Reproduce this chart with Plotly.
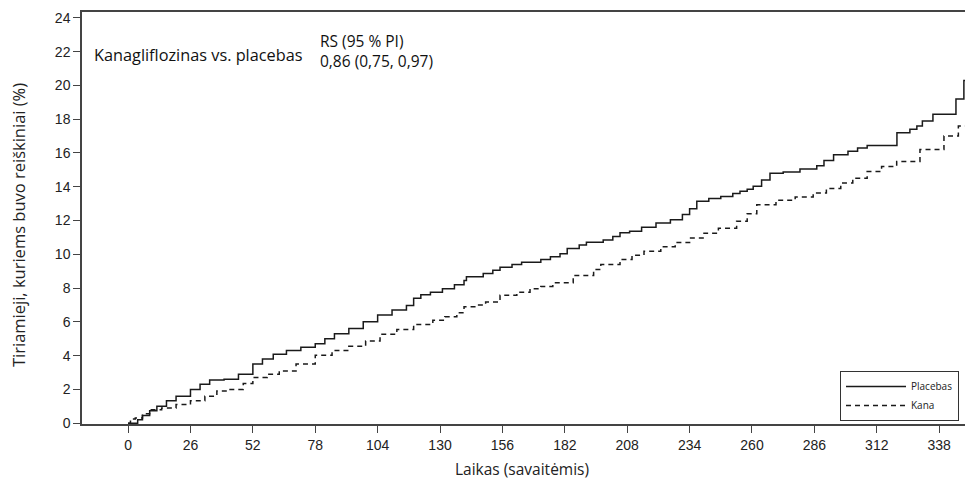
import plotly.graph_objects as go

# Placebo (solid) cumulative incidence
placebo_weeks = [0, 2, 4, 6, 9, 12, 16, 20, 26, 30, 34, 40, 46, 52, 56, 60.5, 66, 72, 78, 82, 86,
                 92, 98, 104, 110, 116, 119, 122, 126, 131, 136, 140, 141, 148, 152, 155, 160, 164,
                 172, 176, 180, 183, 188, 191, 198, 202, 205, 209, 214, 220, 226, 231, 234, 237,
                 242, 247, 252, 255, 258, 260.5, 264, 267.5, 273, 280, 287, 290, 294, 300, 304,
                 308, 320.4, 325.8, 328.7, 331, 335.4, 345, 348.3, 356]
placebo_pct = [0, 0.0, 0.2, 0.45, 0.73, 1.0, 1.32, 1.6, 2.0, 2.3, 2.55, 2.6, 2.9, 3.5, 3.8, 4.08,
               4.3, 4.5, 4.7, 5.0, 5.3, 5.6, 6.0, 6.4, 6.7, 6.97, 7.4, 7.6, 7.76, 7.96, 8.2, 8.45,
               8.67, 8.87, 9.05, 9.24, 9.4, 9.53, 9.69, 9.85, 10.03, 10.34, 10.55, 10.72, 10.85,
               11.05, 11.27, 11.37, 11.6, 11.85, 12.05, 12.35, 12.7, 13.14, 13.3, 13.43, 13.6,
               13.73, 13.85, 14.03, 14.4, 14.8, 14.87, 15.05, 15.25, 15.55, 15.9, 16.1, 16.3,
               16.45, 17.2, 17.4, 17.6, 17.9, 18.3, 19.2, 20.3, 20.3]

# Canagliflozin (dashed)
kana_weeks = [0, 1, 3, 6, 9, 14, 20, 26, 32, 37, 42, 48, 52, 58, 63, 70, 78, 85, 92, 99, 105,
              112, 119, 127, 132, 137, 140, 145, 149, 155, 162, 167.5, 172, 177, 185.5, 194, 197,
              205, 210, 215, 222, 228, 234, 240, 246, 253.6, 258, 262, 270, 278, 285.5, 291, 297,
              302, 308, 314, 320.3, 330, 340, 346, 350, 356]
kana_pct = [0, 0.25, 0.3, 0.55, 0.8, 0.9, 1.1, 1.32, 1.6, 1.91, 2.0, 2.35, 2.7, 2.9, 3.09, 3.5,
            4.02, 4.3, 4.55, 4.87, 5.26, 5.55, 5.85, 6.1, 6.3, 6.54, 6.9, 7.0, 7.17, 7.57, 7.75,
            7.96, 8.1, 8.31, 8.75, 9.1, 9.4, 9.69, 9.95, 10.18, 10.45, 10.7, 10.97, 11.25, 11.55,
            11.96, 12.4, 12.94, 13.2, 13.4, 13.63, 13.9, 14.22, 14.5, 14.9, 15.2, 15.5, 16.2,
            17.0, 17.6, 18.0, 18.0]

x_ticks = [0, 26, 52, 78, 104, 130, 156, 182, 208, 234, 260, 286, 312, 338]
y_ticks = list(range(0, 25, 2))

TXT = "'Open Sans', Lato, sans-serif"
NUM = "Arial, 'Liberation Sans', sans-serif"
AX = "#444444"

# page offset of the figure (default body margin) is 8px
OFF = 8
PL, PT, PW, PH = 82, 12, 891, 412  # plot area in page pixels

def px(x):
    return (x - PL) / PW

def py(y):
    return (PT + PH - y) / PH

fig = go.Figure()
fig.add_trace(go.Scatter(x=placebo_weeks, y=placebo_pct, mode="lines", line_shape="hv",
                         name="Placebas", line=dict(color="#1a1a1a", width=1.5)))
fig.add_trace(go.Scatter(x=kana_weeks, y=kana_pct, mode="lines", line_shape="hv",
                         name="Kana", line=dict(color="#1a1a1a", width=1.5, dash="5px,4px")))

fig.update_layout(
    width=973 - OFF, height=481 - OFF,
    margin=dict(l=PL - OFF, r=0, t=PT - OFF, b=481 - (PT + PH)),
    paper_bgcolor="white", plot_bgcolor="white",
    showlegend=True,
    legend=dict(x=px(840), y=py(396), xanchor="left", yanchor="middle",
                bgcolor="white", bordercolor="#333333", borderwidth=1,
                font=dict(family=TXT, size=10, color="#222"),
                itemwidth=60, tracegroupgap=0),
    xaxis=dict(range=[-19.2, 352.1], tickvals=x_ticks, ticktext=[str(v) for v in x_ticks],
               showgrid=False, zeroline=False, showline=True, linecolor=AX, linewidth=1.5,
               mirror=True, ticks="outside", ticklen=7, tickcolor=AX, tickwidth=1.2,
               tickfont=dict(family=NUM, size=14, color="#222")),
    yaxis=dict(range=[-0.05, 24.35], tickvals=y_ticks,
               showgrid=False, zeroline=False, showline=True, linecolor=AX, linewidth=1.5,
               mirror=False, ticks="outside", ticklen=7, tickcolor=AX, tickwidth=1.2,
               tickfont=dict(family=NUM, size=14, color="#222")),
    annotations=[
        dict(text="Laikas (savaitėmis)", xref="paper", yref="paper",
             x=px(522), y=py(469), xanchor="center", yanchor="middle",
             showarrow=False, font=dict(family=TXT, size=15.5, color="#222")),
        dict(text="Tiriamieji, kuriems buvo reiškiniai (%)", xref="paper", yref="paper",
             x=px(18), y=py(225), xanchor="center", yanchor="middle",
             textangle=-90, showarrow=False, font=dict(family=TXT, size=16.5, color="#222")),
        dict(text="Kanagliflozinas vs. placebas", xref="paper", yref="paper",
             x=px(92), y=py(55), xanchor="left", yanchor="middle",
             showarrow=False, font=dict(family=TXT, size=16.3, color="#111")),
        dict(text="RS (95 % PI)<br>0,86 (0,75, 0,97)", xref="paper", yref="paper",
             x=px(318), y=py(51), xanchor="left", yanchor="middle",
             align="left", showarrow=False, font=dict(family=TXT, size=15.5, color="#111")),
    ],
)

fig.write_html("out.html")
